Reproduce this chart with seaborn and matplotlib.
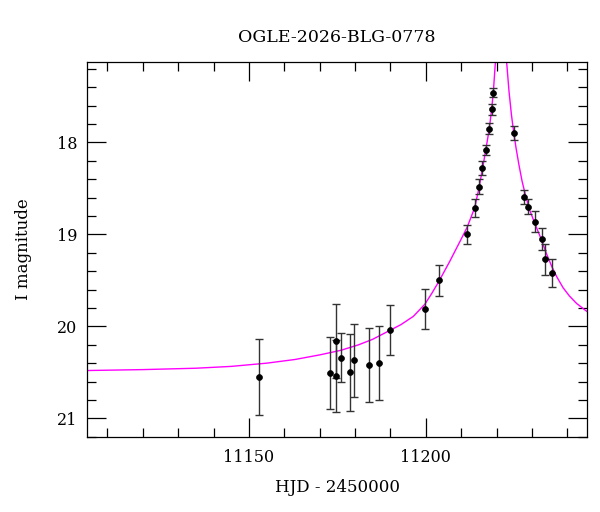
"""OGLE microlensing light curve"""
import matplotlib
matplotlib.use("Agg")
import matplotlib.pyplot as plt
from matplotlib.ticker import MultipleLocator
import seaborn as sns

# 관측 데이터 (HJD - 2450000, I 등급, 오차)
hjd = [11152.7, 11172.8, 11174.6, 11174.6, 11175.9, 11178.7, 11179.8, 11183.9,
       11186.7, 11189.8, 11199.7, 11203.7, 11211.7, 11213.9, 11214.9, 11215.8,
       11216.9, 11217.9, 11218.6, 11218.9, 11224.9, 11227.7, 11228.8, 11230.8,
       11232.8, 11233.8, 11235.6]
mag = [20.55, 20.51, 20.16, 20.54, 20.34, 20.50, 20.37, 20.42,
       20.40, 20.04, 19.81, 19.50, 19.00, 18.71, 18.48, 18.28,
       18.08, 17.85, 17.64, 17.46, 17.90, 18.59, 18.70, 18.86,
       19.05, 19.27, 19.42]
mag_err = [0.41, 0.39, 0.40, 0.39, 0.27, 0.42, 0.40, 0.40,
           0.40, 0.27, 0.22, 0.165, 0.105, 0.10, 0.085, 0.076,
           0.055, 0.058, 0.058, 0.05, 0.074, 0.076, 0.08, 0.118,
           0.118, 0.17, 0.15]

# 모델 곡선
model_hjd = [11104.3, 11120.0, 11135.0, 11145.0, 11155.0, 11163.0, 11170.0, 11176.0,
             11181.0, 11185.0, 11189.0, 11193.0, 11196.5, 11199.7, 11201.7, 11203.7,
             11206.8, 11209.6, 11211.7, 11213.8, 11215.0, 11216.0, 11216.9, 11217.9,
             11218.6, 11219.1, 11219.6, 11221.2, 11222.85, 11223.5, 11224.2, 11224.8,
             11225.5, 11226.3, 11227.2, 11228.2, 11229.4, 11230.8, 11232.7, 11234.0,
             11235.5, 11237.0, 11238.8, 11240.6, 11242.6, 11245.6]
model_mag = [20.48, 20.47, 20.455, 20.435, 20.40, 20.36, 20.31, 20.26,
             20.20, 20.14, 20.06, 19.98, 19.89, 19.76, 19.64, 19.51,
             19.29, 19.08, 18.92, 18.71, 18.50, 18.29, 18.09, 17.86,
             17.64, 17.44, 17.16, 16.40, 17.13, 17.44, 17.70, 17.88,
             18.06, 18.24, 18.42, 18.58, 18.74, 18.88, 19.06, 19.20,
             19.34, 19.46, 19.58, 19.67, 19.75, 19.84]

sns.set_theme(style="ticks")
plt.rcParams["font.family"] = ["DejaVu Serif"]
plt.rcParams["axes.edgecolor"] = "black"
plt.rcParams["axes.linewidth"] = 0.9
plt.rcParams["text.color"] = "black"
plt.rcParams["axes.labelcolor"] = "black"
plt.rcParams["xtick.color"] = "black"
plt.rcParams["ytick.color"] = "black"

fig = plt.figure(figsize=(6, 5.12), dpi=100)
ax = fig.add_axes([0.1455, 0.147, 0.8325, 0.731])

sns.lineplot(x=model_hjd, y=model_mag, sort=False, estimator=None,
             color="#ff00ff", linewidth=1.0, ax=ax)
ax.errorbar(hjd, mag, yerr=mag_err, fmt="none", ecolor="#333333",
            elinewidth=1.0, capsize=3, capthick=1.0, zorder=3)
sns.scatterplot(x=hjd, y=mag, color="black", edgecolor="black", s=18,
                linewidth=0.5, ax=ax, zorder=4)

ax.set_xlim(11104.3, 11245.5)
ax.set_ylim(21.2, 17.13)
ax.xaxis.set_major_locator(MultipleLocator(50))
ax.xaxis.set_minor_locator(MultipleLocator(10))
ax.yaxis.set_major_locator(MultipleLocator(1))
ax.yaxis.set_minor_locator(MultipleLocator(0.2))
ax.tick_params(which="both", direction="in", top=True, right=True,
               color="black", width=0.9)
ax.tick_params(which="major", length=13.5, labelsize=11.5)
ax.tick_params(which="minor", length=6.5)
ax.tick_params(axis="x", pad=9)
ax.tick_params(axis="y", pad=7)

ax.set_xlabel("HJD - 2450000", fontsize=12, labelpad=9)
ax.set_ylabel("I magnitude", fontsize=12, labelpad=18)
ax.set_title("OGLE-2026-BLG-0778", fontsize=12.5, pad=15)

fig.savefig("out.png", dpi=100)
